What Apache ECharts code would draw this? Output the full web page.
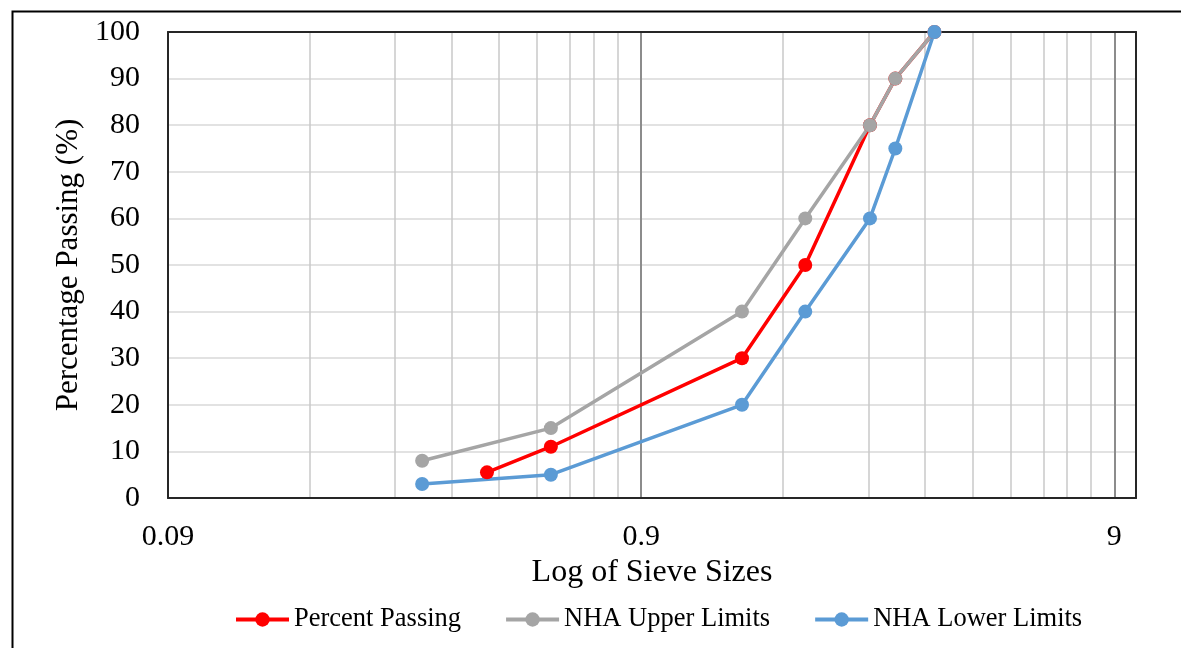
<!DOCTYPE html>
<html>
<head>
<meta charset="utf-8">
<script src="https://cdn.jsdelivr.net/npm/echarts@6/dist/echarts.min.js"></script>
<style>
html,body{margin:0;padding:0;background:#fff;}
#chart{width:1181px;height:648px;}
</style>
</head>
<body>
<div id="chart"></div>
<script>
// ---- data (sieve size in mm, percent passing) ----
const sieveSizes      = [0.31, 0.425, 0.58, 1.47, 2.0, 2.74, 3.1, 3.75];
const percentPassing  = [null, 5.5, 11, 30, 50, 80, 90, 100];
const nhaUpperLimits  = [8, null, 15, 40, 60, 80, 90, 100];
const nhaLowerLimits  = [3, null, 5, 20, 40, 60, 75, 100];
const seriesNames     = ['Percent Passing', 'NHA Upper Limits', 'NHA Lower Limits'];
const xMinSize = 0.09;
const xMaxSize = 10;
const majorGrid = [0.9, 9];
const minorGrid = [0.18, 0.27, 0.36, 0.45, 0.54, 0.63, 0.72, 0.81,
                   1.8, 2.7, 3.6, 4.5, 5.4, 6.3, 7.2, 8.1];
const yTicks = { min: 0, max: 100, interval: 10 };

// position on axis = decades above the minimum size
const toAxis = s => Math.log10(s / xMinSize);
const pairs = vals => sieveSizes.map((s, i) => [toAxis(s), vals[i]]).filter(p => p[1] !== null);

const FONT = "'Liberation Serif', 'Times New Roman', serif";
const BORDER = '#262626';

const lineSeries = (name, vals, color) => ({
  name, type: 'line', data: pairs(vals), z: 6,
  symbol: 'circle', symbolSize: 14, showSymbol: true,
  lineStyle: { color, width: 3.5 }, itemStyle: { color },
  emphasis: { disabled: true }, animation: false
});

const chart = echarts.init(document.getElementById('chart'), null, { renderer: 'canvas' });
chart.setOption({
  backgroundColor: '#fff',
  animation: false,
  graphic: [{
    type: 'rect', left: 10, top: 9, z: 100, silent: true,
    shape: { width: 1200, height: 700 },
    style: { fill: 'none', stroke: '#000', lineWidth: 2 }
  }],
  grid: { left: 168, top: 32, right: 45, bottom: 150, containLabel: false },
  legend: {
    data: seriesNames, left: 229, top: 601,
    itemWidth: 53, itemHeight: 18, itemGap: 43,
    lineStyle: { width: 4 },
    textStyle: { fontFamily: FONT, fontSize: 26.5, color: '#000' }
  },
  xAxis: [{
    type: 'value', min: 0, max: toAxis(xMaxSize), interval: 1, z: 5,
    name: 'Log of Sieve Sizes', nameLocation: 'middle', nameGap: 42,
    nameTextStyle: { fontFamily: FONT, fontSize: 32, color: '#000' },
    axisLine: { show: true, onZero: false, lineStyle: { color: BORDER, width: 2 } },
    axisTick: { show: false },
    splitLine: { show: false },
    axisLabel: {
      fontFamily: FONT, fontSize: 30, color: '#000', margin: 24,
      showMaxLabel: false,
      formatter: v => Math.abs(v - Math.round(v)) < 1e-6
        ? String(parseFloat((xMinSize * Math.pow(10, Math.round(v))).toPrecision(3))) : ''
    }
  }, {
    type: 'value', position: 'top', min: 0, max: toAxis(xMaxSize), z: 5,
    axisLine: { show: true, onZero: false, lineStyle: { color: BORDER, width: 2 } },
    axisTick: { show: false }, axisLabel: { show: false }, splitLine: { show: false }
  }],
  yAxis: [{
    type: 'value', min: yTicks.min, max: yTicks.max, interval: yTicks.interval, z: 4,
    name: 'Percentage Passing (%)', nameLocation: 'middle', nameGap: 76,
    nameTextStyle: { fontFamily: FONT, fontSize: 31, color: '#000' },
    axisLine: { show: true, onZero: false, lineStyle: { color: BORDER, width: 2 } },
    axisTick: { show: false },
    splitLine: { show: true, lineStyle: { color: '#d9d9d9', width: 1.5 } },
    axisLabel: { fontFamily: FONT, fontSize: 30, color: '#000', margin: 28 }
  }, {
    type: 'value', position: 'right', min: yTicks.min, max: yTicks.max, z: 5,
    axisLine: { show: true, onZero: false, lineStyle: { color: BORDER, width: 2 } },
    axisTick: { show: false }, axisLabel: { show: false }, splitLine: { show: false }
  }],
  series: [
    {
      name: 'grid-minor', type: 'line', data: [], z: 1, silent: true,
      markLine: {
        silent: true, symbol: 'none', label: { show: false }, animation: false,
        lineStyle: { color: '#c8c8c8', width: 1.5, type: 'solid' },
        emphasis: { disabled: true },
        data: minorGrid.map(v => ({ xAxis: toAxis(v) }))
      }
    },
    {
      name: 'grid-major', type: 'line', data: [], z: 1, silent: true,
      markLine: {
        silent: true, symbol: 'none', label: { show: false }, animation: false,
        lineStyle: { color: '#8c8c8c', width: 2, type: 'solid' },
        emphasis: { disabled: true },
        data: majorGrid.map(v => ({ xAxis: toAxis(v) }))
      }
    },
    lineSeries(seriesNames[0], percentPassing, '#FF0000'),
    lineSeries(seriesNames[1], nhaUpperLimits, '#A5A5A5'),
    lineSeries(seriesNames[2], nhaLowerLimits, '#5B9BD5')
  ]
});
</script>
</body>
</html>
